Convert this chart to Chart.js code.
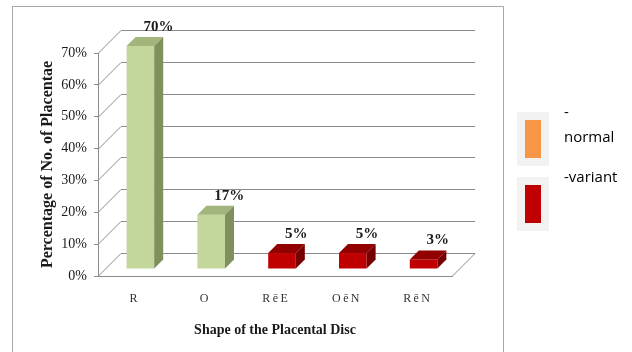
<!DOCTYPE html>
<html>
<head>
<meta charset="utf-8">
<script src="https://cdn.jsdelivr.net/npm/chart.js@4/dist/chart.umd.min.js"></script>
<style>
  html, body { margin: 0; padding: 0; background: #ffffff; }
  #wrap { width: 632px; height: 352px; position: relative; }
</style>
</head>
<body>
<div id="wrap"><canvas id="c" width="632" height="352"></canvas></div>
<script>
// Placental disc shapes and their share of all placentae (%)
const categories = ['R', 'O', 'R\u2009ē\u2009E', 'O\u2009ē\u2009N', 'R\u2009ē\u2009N'];
const normalValues = [70, 17, null, null, null];
const variantValues = [null, null, 5, 5, 3];
const yTicks = [0, 10, 20, 30, 40, 50, 60, 70];
const legendLines = [['-', 'normal'], ['-variant']];
const legendColors = ['#f79646', '#c00000'];

// Pseudo-3D geometry (pixels)
const WALL = 23;       // depth of the back wall behind the front plane
const SHIFT = 7;       // bars sit part way into the floor
const DEPTH = 9;       // thickness of each bar

const faces = [
  { front: '#c3d69b', top: '#a2b57c', side: '#7f8f5e' },
  { front: '#c00000', top: '#930000', side: '#760000' }
];
const GRID = '#8c8c8c';
const SERIF = '"Liberation Serif", "Times New Roman", serif';

const depthPlugin = {
  id: 'depth',
  beforeDraw(chart) {
    const ctx = chart.ctx;
    ctx.save();
    ctx.strokeStyle = '#a6a6a6';
    ctx.lineWidth = 1;
    ctx.beginPath();
    ctx.moveTo(12.5, 352); ctx.lineTo(12.5, 6.5); ctx.lineTo(503.5, 6.5); ctx.lineTo(503.5, 352);
    ctx.stroke();
    ctx.restore();
  },
  beforeDatasetsDraw(chart) {
    const { ctx, chartArea: a, scales: { y } } = chart;
    ctx.save();
    ctx.strokeStyle = GRID;
    ctx.lineWidth = 1;
    ctx.beginPath();
    y.ticks.forEach(t => {
      const py = Math.round(y.getPixelForValue(t.value)) + 0.5;
      // side wall diagonal and back wall line
      ctx.moveTo(a.left, py);
      ctx.lineTo(a.left + WALL, py - WALL);
      ctx.lineTo(a.right + WALL, py - WALL);
    });
    // right edge of the floor
    const pb = Math.round(y.getPixelForValue(0)) + 0.5;
    ctx.moveTo(a.right, pb);
    ctx.lineTo(a.right + WALL, pb - WALL);
    ctx.stroke();
    ctx.restore();
    // bars are drawn set back into the floor
    ctx.save();
    ctx.translate(SHIFT, -SHIFT);
  },
  afterDatasetsDraw(chart) {
    const ctx = chart.ctx;
    chart.data.datasets.forEach((ds, di) => {
      const meta = chart.getDatasetMeta(di);
      const f = faces[di];
      meta.data.forEach((el, i) => {
        if (ds.data[i] == null) return;
        const { x, y, base, width } = el.getProps(['x', 'y', 'base', 'width'], true);
        const l = x - width / 2, r = x + width / 2;
        ctx.fillStyle = f.top;
        ctx.beginPath();
        ctx.moveTo(l, y); ctx.lineTo(l + DEPTH, y - DEPTH);
        ctx.lineTo(r + DEPTH, y - DEPTH); ctx.lineTo(r, y);
        ctx.closePath(); ctx.fill();
        ctx.fillStyle = f.side;
        ctx.beginPath();
        ctx.moveTo(r, y); ctx.lineTo(r + DEPTH, y - DEPTH);
        ctx.lineTo(r + DEPTH, base - DEPTH); ctx.lineTo(r, base);
        ctx.closePath(); ctx.fill();
      });
    });
    ctx.restore();
  },
  afterDraw(chart) {
    const ctx = chart.ctx;
    // value labels
    ctx.save();
    ctx.fillStyle = '#1a1a1a';
    ctx.font = 'bold 15px ' + SERIF;
    ctx.textAlign = 'left';
    ctx.textBaseline = 'middle';
    chart.data.datasets.forEach((ds, di) => {
      const meta = chart.getDatasetMeta(di);
      meta.data.forEach((el, i) => {
        if (ds.data[i] == null) return;
        ctx.fillText(ds.data[i] + '%', el.x + SHIFT + 3, el.y - SHIFT - 19);
      });
    });
    ctx.restore();

    // legend
    ctx.save();
    ctx.font = '15px "Open Sans", sans-serif';
    ctx.textAlign = 'left';
    ctx.textBaseline = 'middle';
    const tiles = [112, 177];
    legendLines.forEach((lines, k) => {
      const ty = tiles[k];
      ctx.fillStyle = '#f2f2f2';
      ctx.fillRect(517, ty, 32, 54);
      ctx.fillStyle = legendColors[k];
      ctx.fillRect(525, ty + 8, 16, 38);
      ctx.fillStyle = '#000000';
      lines.forEach((s, j) => ctx.fillText(s, 564, ty + 1 + j * 25));
    });
    ctx.restore();
  }
};

new Chart(document.getElementById('c'), {
  type: 'bar',
  data: {
    labels: categories,
    datasets: [
      { label: 'normal', data: normalValues, backgroundColor: faces[0].front, borderWidth: 0, grouped: false },
      { label: 'variant', data: variantValues, backgroundColor: faces[1].front, borderWidth: 0, grouped: false }
    ]
  },
  options: {
    responsive: false,
    animation: false,
    devicePixelRatio: 1,
    barPercentage: 0.39,
    categoryPercentage: 1,
    layout: { padding: { left: 12, right: 180, top: 53, bottom: 0 } },
    plugins: { legend: { display: false }, tooltip: { enabled: false } },
    scales: {
      x: {
        grid: { display: false, drawTicks: false },
        border: { display: true, color: GRID, width: 1 },
        ticks: { color: '#333333', font: { family: SERIF, size: 12 }, padding: 16, maxRotation: 0 },
        title: {
          display: true,
          text: 'Shape of the Placental Disc',
          color: '#1a1a1a',
          font: { family: SERIF, size: 14, weight: 'bold' },
          padding: { top: 0, bottom: 13 }
        },
        afterFit(s) { s.height = 76; }
      },
      y: {
        min: 0,
        max: 70,
        afterBuildTicks(s) { s.ticks = yTicks.map(v => ({ value: v })); },
        grid: { drawOnChartArea: false, drawTicks: true, tickLength: 4, color: GRID },
        border: { display: true, color: GRID, width: 1 },
        ticks: { color: '#1a1a1a', font: { family: SERIF, size: 14 }, padding: 7, callback: v => v + '%' },
        title: {
          display: true,
          text: 'Percentage of No. of Placentae',
          color: '#1a1a1a',
          font: { family: SERIF, size: 16, weight: 'bold' },
          padding: { top: 26, bottom: 0 }
        },
        afterFit(s) { s.width = 86; }
      }
    }
  },
  plugins: [depthPlugin]
});
</script>
</body>
</html>
